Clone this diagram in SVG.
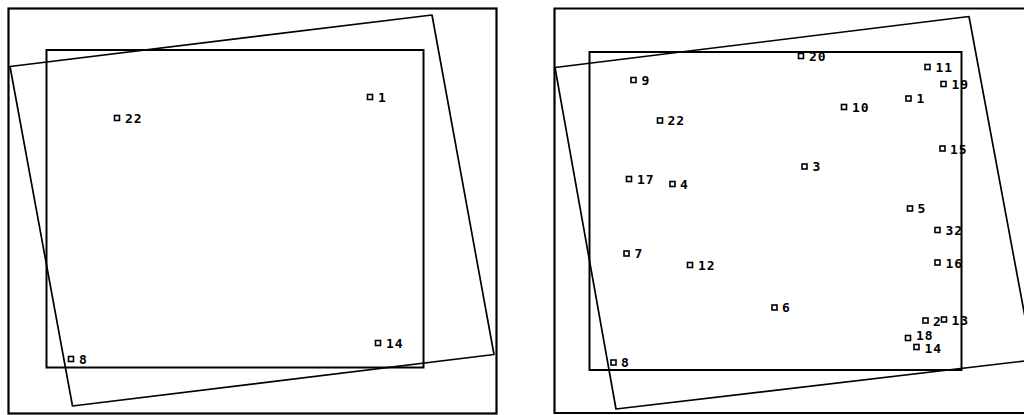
<svg xmlns="http://www.w3.org/2000/svg" width="1024" height="415" viewBox="0 0 1024 415">
<style>
.frame{fill:none;stroke:#000;stroke-width:2.2}
.inner{fill:none;stroke:#000;stroke-width:2}
.quad{fill:none;stroke:#000;stroke-width:1.7;stroke-linejoin:round}
.pt rect{fill:#fff;stroke:#000;stroke-width:1.6}
.pt text{font-family:"DejaVu Sans Mono","Liberation Mono",monospace;font-weight:bold;font-size:13px;letter-spacing:1px;fill:#000}
</style>
<rect width="1024" height="415" fill="#fff"/>
<!-- Left panel -->
<g id="left-panel">
<rect class="frame" x="8.5" y="8.5" width="488" height="405"/>
<rect class="inner" x="46.5" y="50" width="377" height="317.5"/>
<polygon class="quad" points="10,66.5 432,15 494,354.5 72.5,406"/>
<g id="L1" class="pt"><rect x="367.5" y="94.5" width="5" height="5"/><text x="378" y="102">1</text></g>
<g id="L22" class="pt"><rect x="114.5" y="115.5" width="5" height="5"/><text x="125" y="122.5">22</text></g>
<g id="L14" class="pt"><rect x="375.5" y="340.5" width="5" height="5"/><text x="386" y="347.5">14</text></g>
<g id="L8" class="pt"><rect x="68.5" y="356.5" width="5" height="5"/><text x="79" y="363.5">8</text></g>
</g>
<!-- Right panel -->
<g id="right-panel">
<polyline class="frame" points="1030,8.5 554.5,8.5 554.5,413 1030,413"/>
<rect class="inner" x="589.5" y="52" width="372" height="318"/>
<polygon class="quad" points="555,67.5 969,16.5 1033,360 616,409"/>
<g id="R20" class="pt"><rect x="798.5" y="53.5" width="5" height="5"/><text x="809" y="60.5">20</text></g>
<g id="R11" class="pt"><rect x="925" y="64.5" width="5" height="5"/><text x="935.5" y="72">11</text></g>
<g id="R19" class="pt"><rect x="941" y="81.5" width="5" height="5"/><text x="951.5" y="89">19</text></g>
<g id="R9" class="pt"><rect x="631" y="77.5" width="5" height="5"/><text x="641.5" y="84.5">9</text></g>
<g id="R1" class="pt"><rect x="906" y="96" width="5" height="5"/><text x="916.5" y="103">1</text></g>
<g id="R10" class="pt"><rect x="841.5" y="104.5" width="5" height="5"/><text x="852" y="112">10</text></g>
<g id="R22" class="pt"><rect x="657.5" y="118" width="5" height="5"/><text x="667.5" y="125">22</text></g>
<g id="R15" class="pt"><rect x="940" y="146" width="5" height="5"/><text x="950" y="153.5">15</text></g>
<g id="R3" class="pt"><rect x="802" y="164" width="5" height="5"/><text x="812.5" y="171">3</text></g>
<g id="R17" class="pt"><rect x="626.5" y="176.5" width="5" height="5"/><text x="637" y="184">17</text></g>
<g id="R4" class="pt"><rect x="670" y="181.5" width="5" height="5"/><text x="680" y="188.5">4</text></g>
<g id="R5" class="pt"><rect x="907.5" y="206" width="5" height="5"/><text x="917.5" y="213">5</text></g>
<g id="R32" class="pt"><rect x="935" y="227.5" width="5" height="5"/><text x="945.5" y="234.5">32</text></g>
<g id="R7" class="pt"><rect x="624" y="251" width="5" height="5"/><text x="634.5" y="258">7</text></g>
<g id="R12" class="pt"><rect x="687.5" y="262.5" width="5" height="5"/><text x="698" y="269.5">12</text></g>
<g id="R16" class="pt"><rect x="935" y="260" width="5" height="5"/><text x="945.5" y="267.5">16</text></g>
<g id="R6" class="pt"><rect x="772" y="305" width="5" height="5"/><text x="782" y="312">6</text></g>
<g id="R2" class="pt"><rect x="923" y="318" width="5" height="5"/><text x="933" y="325.5">2</text></g>
<g id="R13" class="pt"><rect x="941.5" y="317" width="5" height="5"/><text x="951.5" y="324.5">13</text></g>
<g id="R18" class="pt"><rect x="905.5" y="335.5" width="5" height="5"/><text x="916" y="340">18</text></g>
<g id="R14" class="pt"><rect x="914" y="344.5" width="5" height="5"/><text x="924.5" y="352.5">14</text></g>
<g id="R8" class="pt"><rect x="611" y="360" width="5" height="5"/><text x="621" y="367">8</text></g>
</g>
<g id="connectors"/>
</svg>
